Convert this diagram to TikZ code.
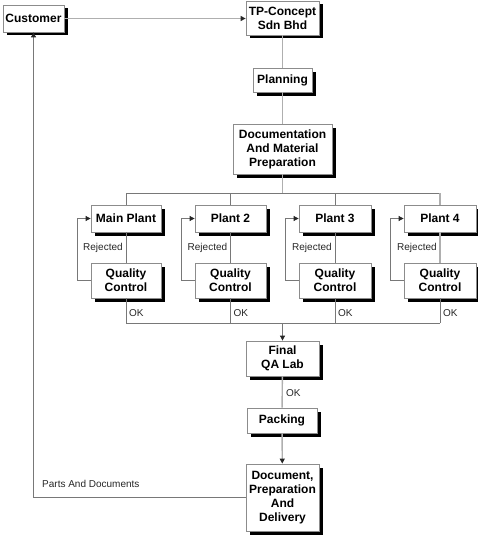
\documentclass[tikz,border=0pt]{standalone}
\usepackage{fontspec}
\setmainfont{Liberation Sans}
\usetikzlibrary{arrows.meta,shadows}
\definecolor{boxline}{RGB}{140,140,140}
\definecolor{lightln}{RGB}{175,175,175}
\definecolor{darkln}{RGB}{120,120,120}
\tikzset{
  box/.style={draw=boxline, line width=0.8pt, fill=white, align=center, inner sep=1pt,
    font=\bfseries\fontsize{12}{14}\selectfont,
    drop shadow={shadow xshift=3.5pt, shadow yshift=-3.5pt, fill=black, opacity=1}},
  mainline/.style={draw=lightln, line width=1.4pt},
  thinline/.style={draw=darkln, line width=0.8pt},
  tip/.style={-{Triangle[length=5pt,width=5pt,color=black!85]}},
  lbl/.style={font=\fontsize{10}{12}\selectfont, inner sep=0pt, anchor=west, text=black!85}
}
\begin{document}
\begin{tikzpicture}[x=1pt,y=-1pt]
\useasboundingbox (0,0) rectangle (478,535);
% boxes
\node[box, minimum width=61pt, minimum height=27pt] (cust) at (33.5,18.5) {Customer};
\node[box, minimum width=73pt, minimum height=34pt] (tp) at (282.5,18) {TP-Concept\\Sdn Bhd};
\node[box, minimum width=59pt, minimum height=24pt] (plan) at (282.5,80) {Planning};
\node[box, minimum width=99pt, minimum height=50pt] (doc) at (282.5,149) {Documentation\\And Material\\Preparation};
\node[box, minimum width=70pt, minimum height=27pt] (mp) at (126,218.5) {Main Plant};
\node[box, minimum width=71pt, minimum height=27pt] (p2) at (230.5,218.5) {Plant 2};
\node[box, minimum width=72pt, minimum height=27pt] (p3) at (335,218.5) {Plant 3};
\node[box, minimum width=72pt, minimum height=27pt] (p4) at (440,218.5) {Plant 4};
\node[box, minimum width=70pt, minimum height=35pt] (q1) at (126,280.5) {Quality\\Control};
\node[box, minimum width=71pt, minimum height=35pt] (q2) at (230.5,280.5) {Quality\\Control};
\node[box, minimum width=72pt, minimum height=35pt] (q3) at (335,280.5) {Quality\\Control};
\node[box, minimum width=72pt, minimum height=35pt] (q4) at (440,280.5) {Quality\\Control};
\node[box, minimum width=73pt, minimum height=35pt] (final) at (282.5,358.5) {Final\\QA Lab};
\node[box, minimum width=70pt, minimum height=25pt] (pack) at (282,420.5) {Packing};
\node[box, minimum width=73pt, minimum height=67pt] (deliv) at (282.5,497.5) {Document,\\Preparation\\And\\Delivery};
% bus coordinates
\coordinate (bt) at (282.5,193);
\coordinate (bl) at (126,193);
\coordinate (br) at (440,193);
\coordinate (cl) at (126,323);
\coordinate (cr) at (440,323);
% top flow
\draw[mainline, tip] (cust.east) -- (cust.east -| tp.west);
\draw[mainline] (tp) -- (plan);
\draw[mainline] (plan) -- (doc);
\draw[mainline] (doc.south) -- (bt);
\draw[thinline] (bl) -- (br);
\draw[thinline] (bl) -- (mp);
\draw[thinline] (p2.north |- bl) -- (p2);
\draw[thinline] (p3.north |- bl) -- (p3);
\draw[mainline] (br) -- (p4);
% plant to QC
\draw[thinline] (mp) -- (q1);
\draw[thinline] (p2) -- (q2);
\draw[thinline] (p3) -- (q3);
\draw[mainline] (p4) -- (q4);
% rejected loops
\draw[thinline, tip] (q1.west) -- ++(-13,0) |- (mp.west);
\draw[thinline, tip] (q2.west) -- ++(-13,0) |- (p2.west);
\draw[thinline, tip] (q3.west) -- ++(-13,0) |- (p3.west);
\draw[thinline, tip] (q4.west) -- ++(-13,0) |- (p4.west);
\node[lbl] (r1) at (83,248) {Rejected};
\node[lbl] (r2) at (187.5,248) {Rejected};
\node[lbl] (r3) at (292,248) {Rejected};
\node[lbl] (r4) at (397,248) {Rejected};
% OK bus
\draw[thinline] (q1) -- (cl);
\draw[thinline] (q2) -- (q2.south |- cl);
\draw[thinline] (q3) -- (q3.south |- cl);
\draw[thinline] (q4) -- (cr);
\draw[thinline] (cl) -- (cr);
\node[lbl] (o1) at (129,313) {OK};
\node[lbl] (o2) at (233.5,313) {OK};
\node[lbl] (o3) at (338,313) {OK};
\node[lbl] (o4) at (443,313) {OK};
\draw[thinline, tip] (final.north |- cl) -- (final.north);
% bottom flow
\draw[mainline] (final) -- (pack);
\node[lbl] (o5) at (286,393) {OK};
\draw[mainline, tip] (pack) -- (deliv);
\draw[thinline, tip] (deliv.west) -| (cust.south);
\node[lbl] (pd) at (42,483.5) {Parts And Documents};
\end{tikzpicture}
\end{document}
